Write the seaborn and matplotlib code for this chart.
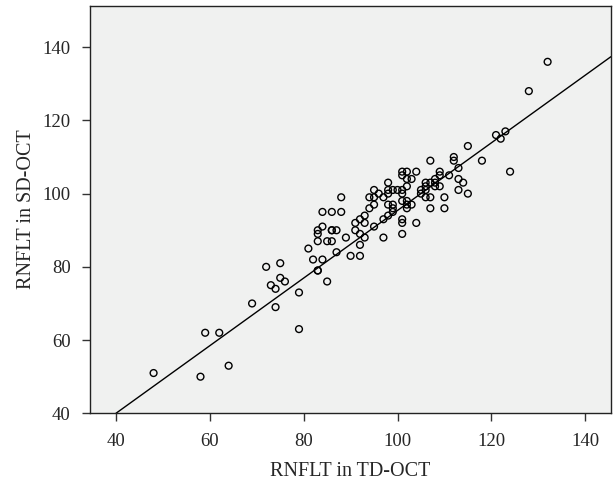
import numpy as np
import pandas as pd
import seaborn as sns
import matplotlib
matplotlib.use("Agg")
import matplotlib.pyplot as plt

td_oct = [48, 58, 59, 62, 64, 69, 72, 73, 74, 74, 75, 75, 76, 79, 79, 81, 82,
          83, 83, 83, 83, 83, 84, 84, 84, 85, 85, 86, 86, 86, 87, 86, 87, 88, 88,
          89, 90, 91, 91, 92, 92, 92, 92, 93, 93, 93, 94, 94, 95, 95, 95, 95,
          96, 97, 97, 97, 98, 98, 98, 98, 98, 99, 99, 99, 99, 100,
          101, 101, 101, 101, 101, 101, 101, 101, 102, 102, 102, 102, 102, 102,
          103, 103, 104, 104, 105, 105, 106, 106, 106, 106, 107, 107, 107, 107,
          108, 108, 108, 109, 109, 109, 110, 110, 111, 112, 112, 113, 113, 113,
          114, 115, 115, 118, 121, 122, 123, 124, 128, 132]
sd_oct = [51, 50, 62, 62, 53, 70, 80, 75, 74, 69, 81, 77, 76, 73, 63, 85, 82,
          79, 79, 90, 89, 87, 95, 91, 82, 87, 76, 95, 90, 90, 90, 87, 84, 99, 95,
          88, 83, 92, 90, 93, 89, 86, 83, 94, 92, 88, 99, 96, 101, 99, 97, 91,
          100, 99, 93, 88, 103, 101, 100, 97, 94, 101, 97, 96, 95, 101,
          106, 105, 101, 100, 98, 93, 92, 89, 106, 104, 102, 98, 97, 96,
          104, 97, 106, 92, 101, 100, 103, 102, 101, 99, 109, 103, 99, 96,
          104, 103, 102, 106, 105, 102, 99, 96, 105, 110, 109, 107, 104, 101,
          103, 113, 100, 109, 116, 115, 117, 106, 128, 136]

# fit line as drawn in the figure (SPSS "fit line at total")
fit_intercept = 3.1
fit_slope = 0.923

df = pd.DataFrame({"TD": td_oct, "SD": sd_oct})

sns.set_style("ticks")
plt.rcParams["font.family"] = ["Liberation Serif", "DejaVu Serif"]

fig = plt.figure(figsize=(6.14, 4.82), dpi=100)
ax = fig.add_axes([0.147, 0.1425, 0.848, 0.8455])
ax.set_facecolor("#f0f1f0")

sns.scatterplot(data=df, x="TD", y="SD", ax=ax, s=24, marker="o",
                facecolors="none", edgecolor="black", linewidth=1.0)
ax.axline((0, fit_intercept), slope=fit_slope, color="black", linewidth=1.0)

ax.set_xlim(34.5, 145.5)
ax.set_ylim(40, 151.3)
ax.set_xticks([40, 60, 80, 100, 120, 140])
ax.set_yticks([40, 60, 80, 100, 120, 140])
ax.tick_params(labelsize=13.5, length=6, width=1, color="#333333",
               direction="out", pad=8)
for s in ax.spines.values():
    s.set_visible(True)
    s.set_linewidth(1.0)
    s.set_color("#222222")

ax.set_xlabel("RNFLT in TD-OCT", fontsize=14.5, labelpad=9)
ax.set_ylabel("RNFLT in SD-OCT", fontsize=14.5, labelpad=5)

fig.savefig("out.png", dpi=100)
